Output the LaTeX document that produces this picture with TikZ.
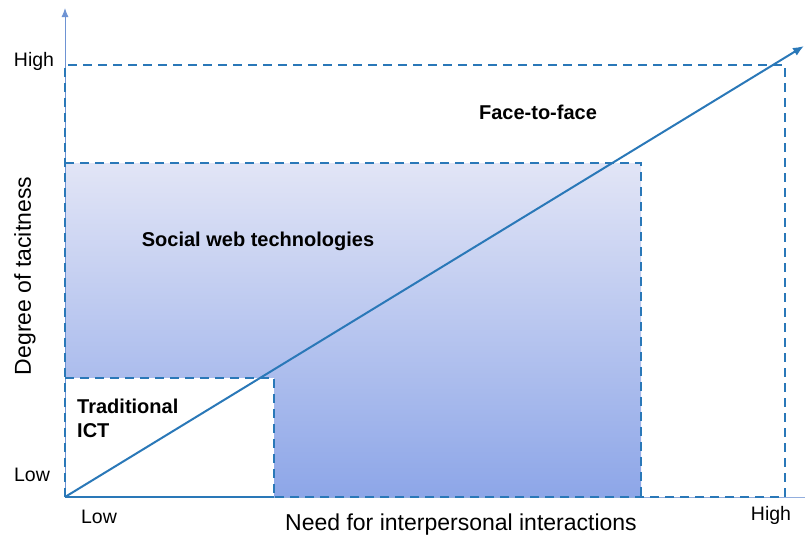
\documentclass[tikz,border=0pt]{standalone}
\usepackage{fontspec}
\setmainfont{Liberation Sans}
\usetikzlibrary{positioning,arrows.meta}
\definecolor{lineblue}{HTML}{2A78B8}
\definecolor{axisblue}{HTML}{4A78C8}
\definecolor{shadetop}{HTML}{E2E5F6}
\definecolor{shadebot}{HTML}{8DA6E8}

\begin{document}
\begin{tikzpicture}[x=1pt,y=-1pt,
  dashline/.style={lineblue, line width=2pt, dash pattern=on 9pt off 6pt},
  lbl/.style={font=\fontsize{19.5}{22}\selectfont, inner sep=0pt},
  title/.style={font=\fontsize{23}{26}\selectfont, inner sep=0pt},
  zone/.style={font=\bfseries\fontsize{20}{24}\selectfont, inner sep=0pt, align=left}]
  \useasboundingbox (0,0) rectangle (805,539);
  \coordinate (o) at (65,497);
  \coordinate (ytop) at (65,8);
  \coordinate (xend) at (805,497);
  \coordinate (hh) at (785,65);
  \coordinate (tip) at (804,46);
  % shaded zone and traditional box
  \shade[top color=shadetop, bottom color=shadebot] (65,163) rectangle (641,497);
  \fill[white] (65,378) rectangle (274,497);
  % axes
  \draw[axisblue!60, line width=1pt] (o) -- (xend);
  \draw[axisblue!80, line width=1pt, -{Latex[length=9pt,width=7pt]}] (o) -- (ytop);
  % dashed frames
  \draw[dashline] (65,497) -- (65,65) -- (hh) -- (785,497) -- (274,497);
  \draw[dashline] (65,163) -- (641,163) -- (641,497);
  \draw[dashline] (65,378) -- (274,378) -- (274,497);
  \draw[lineblue, line width=2pt] (o) -- (274,497);
  % diagonal
  \draw[lineblue, line width=2pt, -{Latex[length=11pt,width=9pt]}] (o) -- (tip);
  % labels
  \node[lbl] (yhigh) at (34,61) {High};
  \node[lbl] (ylow) at (32,475) {Low};
  \node[lbl] (xlow) at (99,517) {Low};
  \node[lbl] (xhigh) at (771,515) {High};
  \node[title] (xtitle) at (461,525) {Need for interpersonal interactions};
  \node[title, rotate=90] (ytitle) at (25,276) {Degree of tacitness};
  \node[zone] (f2f) at (538,112) {Face-to-face};
  \node[zone] (sweb) at (258,241) {Social web technologies};
  \node[zone, anchor=north west] (tict) at (77,399) {Traditional\\ICT};
\end{tikzpicture}
\end{document}
